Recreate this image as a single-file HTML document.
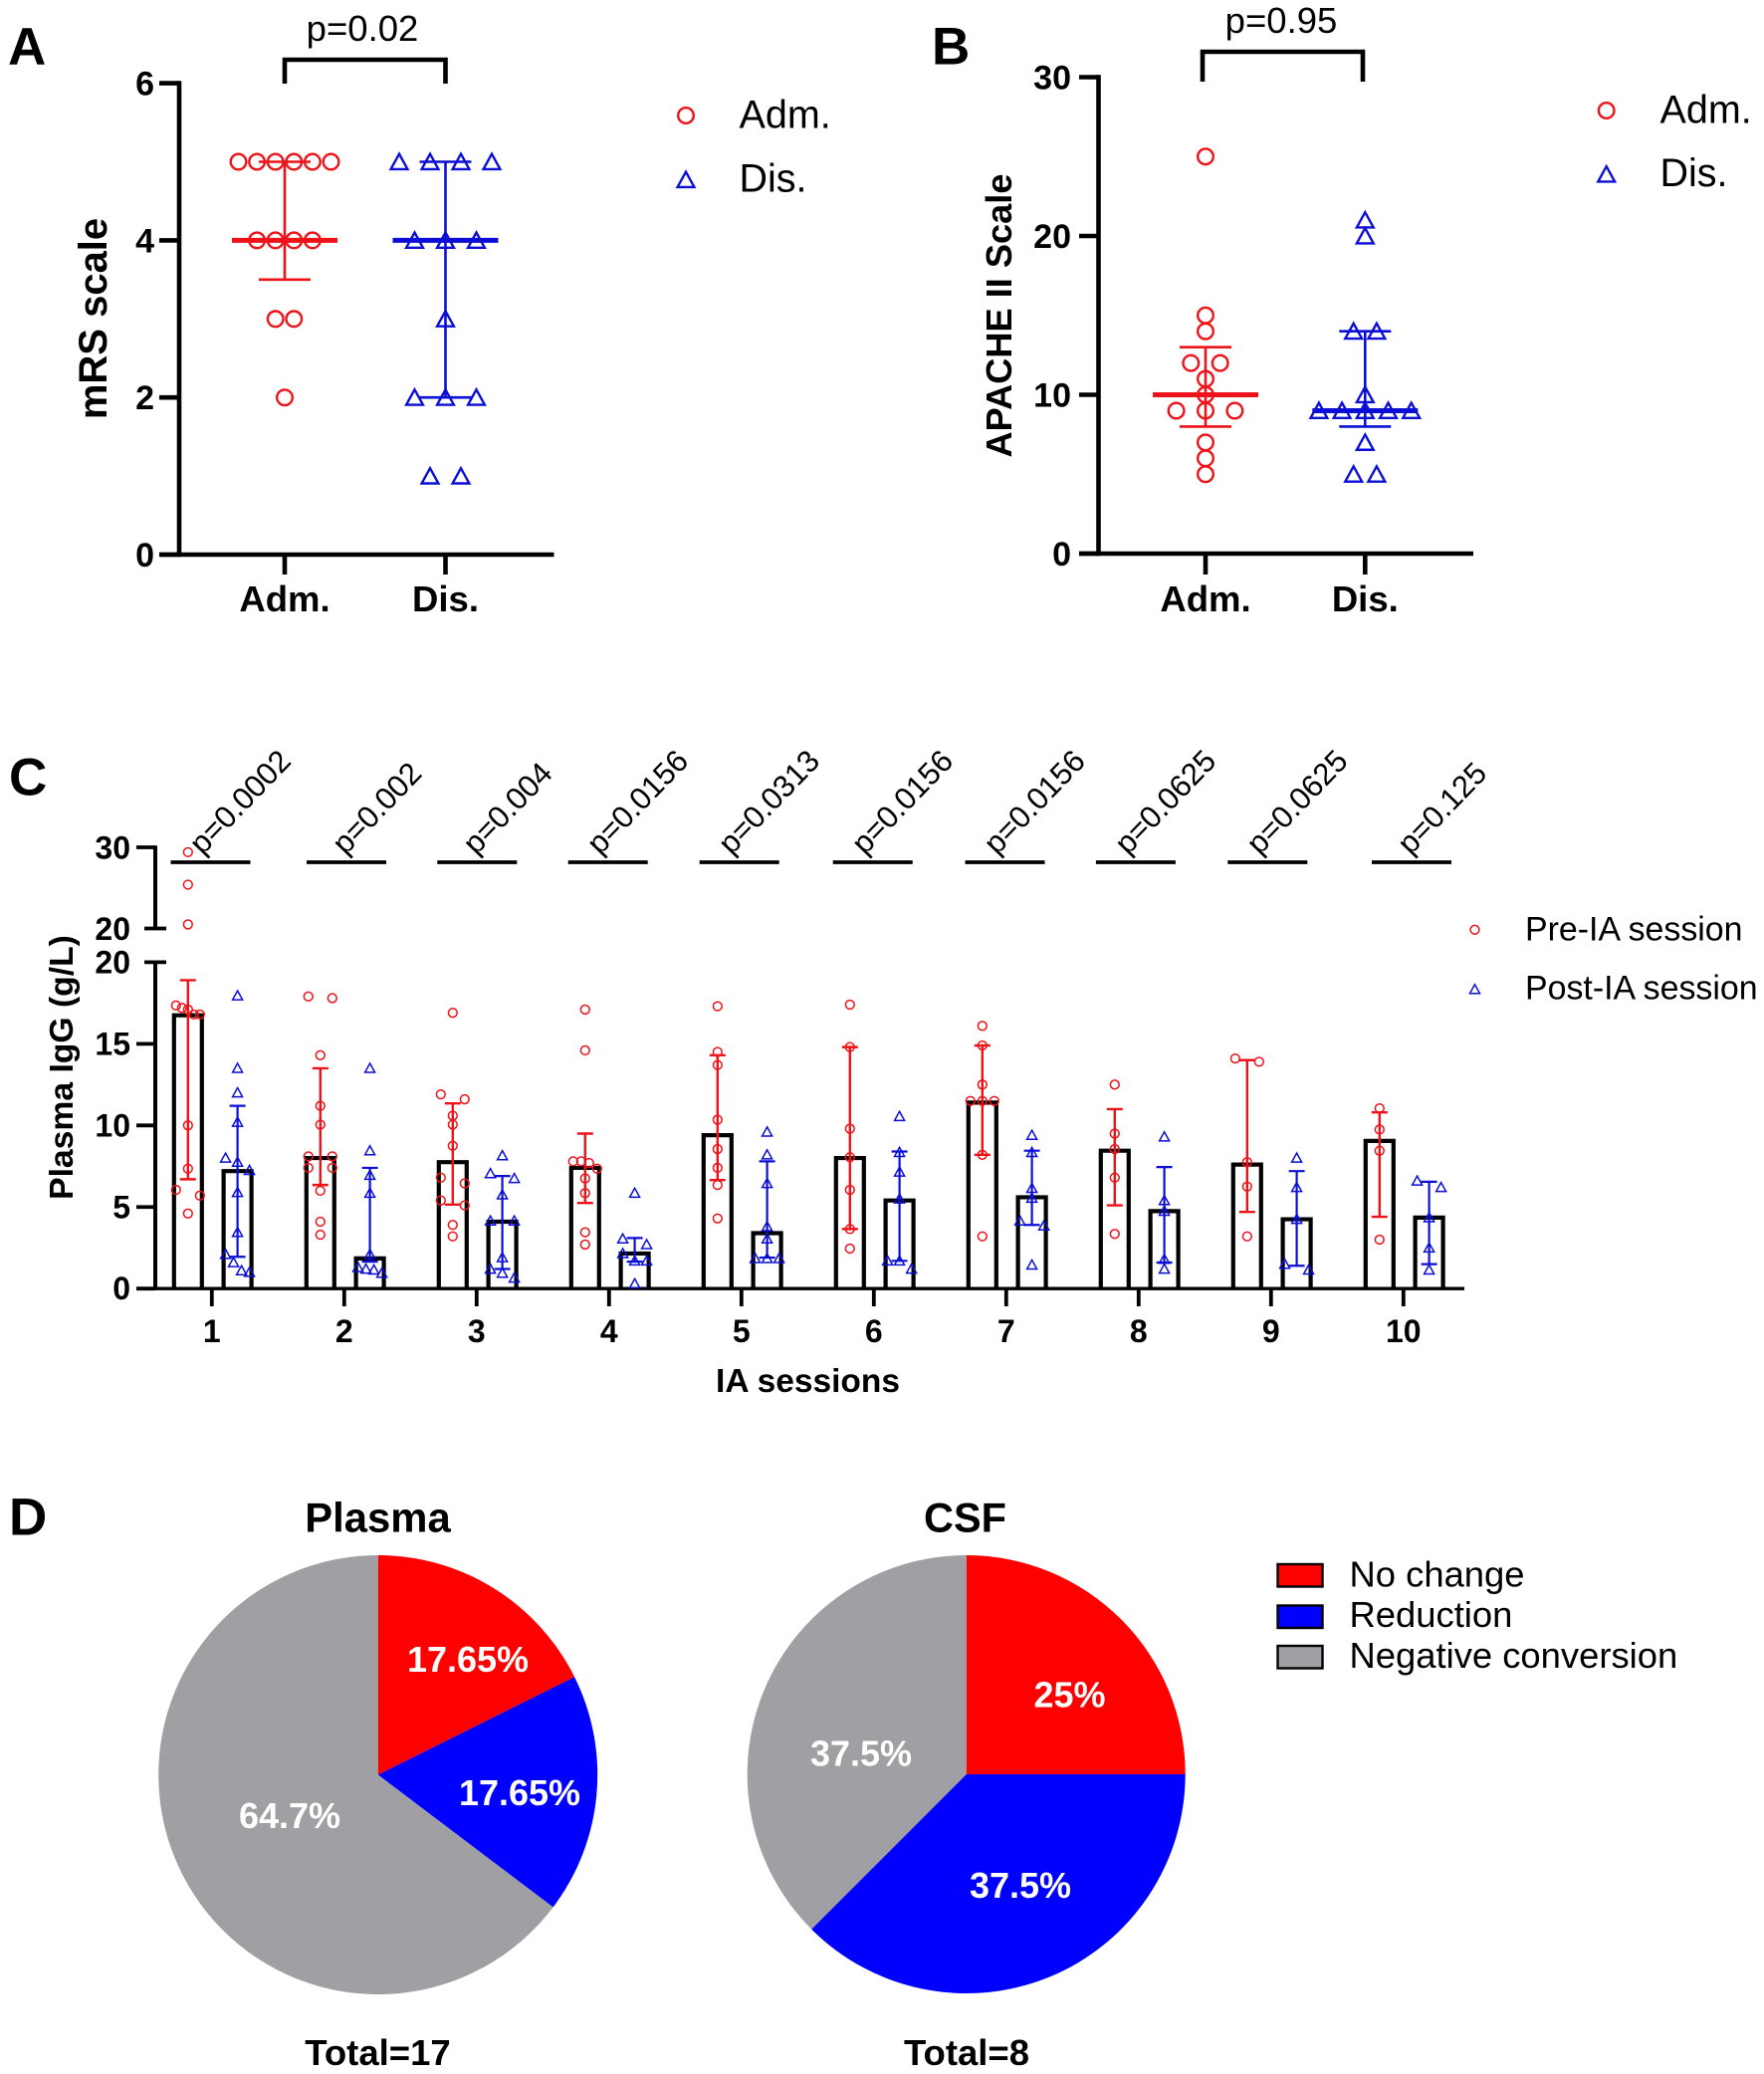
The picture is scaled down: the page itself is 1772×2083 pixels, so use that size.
<!DOCTYPE html>
<html lang="en">
<head>
<meta charset="utf-8">
<title>Clinical outcome and IgG figure</title>
<style>
html,body{margin:0;padding:0;background:#fff;}
svg{display:block;font-family:"Liberation Sans",sans-serif;}
</style>
</head>
<body>
<svg id="figure" xmlns="http://www.w3.org/2000/svg" width="1772" height="2083" viewBox="0 0 1772 2083"></svg>
<script>
/* ---------- Panel A data ---------- */
const mrsGroups = ["Adm.", "Dis."];
const mrsTicks = [0, 2, 4, 6];
const mrsAdm = [5,5,5,5,5,5,4,4,4,4,3,3,2];
const mrsDis = [5,5,5,5,4,4,4,3,2,2,2,1,1];
const mrsAdmSummary = [3.5, 4, 5];
const mrsDisSummary = [2, 4, 5];
const mrsP = "p=0.02";

/* ---------- Panel B data ---------- */
const apacheGroups = ["Adm.", "Dis."];
const apacheTicks = [0, 10, 20, 30];
const apacheAdm = [25,15,14,12,12,11,10,9,9,9,7,6,5];
const apacheDis = [21,20,14,14,10,9,9,9,9,9,7,5,5];
const apacheAdmSummary = [8, 10, 13];
const apacheDisSummary = [8, 9, 14];
const apacheP = "p=0.95";

/* ---------- Panel C data ---------- */
const sessions = ["1","2","3","4","5","6","7","8","9","10"];
const igTicksLower = [0, 5, 10, 15, 20];
const igTicksUpper = [20, 30];
const sessionP = ["p=0.0002","p=0.002","p=0.004","p=0.0156","p=0.0313","p=0.0156","p=0.0156","p=0.0625","p=0.0625","p=0.125"];
const preBars = [16.75,8.0,7.75,7.4,9.4,8.0,11.4,8.45,7.6,9.05];
const postBars = [7.2,1.85,4.1,2.15,3.4,5.4,5.6,4.75,4.25,4.35];
const preErrLow = [6.7,6.35,5.15,5.25,6.65,3.65,8.2,5.1,4.7,4.4];
const preErrHigh = [18.9,13.5,11.35,9.5,14.3,14.8,14.9,11.0,14.0,10.8];
const postErrLow = [1.95,1.65,1.2,1.65,1.9,1.7,3.9,1.6,1.4,1.5];
const postErrHigh = [11.2,7.4,6.9,3.1,7.8,8.4,8.45,7.45,7.2,6.55];
const prePoints = [
  [29.4,25.4,20.5,17.35,17.2,17.1,16.8,16.8,10,7.35,6.05,5.7,4.6],
  [17.9,17.8,14.3,11.2,10.05,8.1,8.1,7.4,7.4,6.0,4.1,3.3],
  [16.9,11.9,11.6,10.6,10.05,8.75,6.8,6.45,5.4,5.1,3.9,3.2],
  [17.1,14.6,7.8,7.8,7.7,7.35,6.75,5.85,3.45,2.7],
  [17.3,14.5,13.7,10.35,8.55,7.4,6.35,4.3],
  [17.4,14.8,9.8,8.05,6.05,3.65,2.45],
  [16.1,14.9,12.5,11.5,11.5,11.5,8.2,3.2],
  [12.5,9.5,8.55,6.8,3.35],
  [14.1,13.9,7.75,6.25,3.2],
  [11.05,9.75,8.45,3.0]
];
const postPoints = [
  [17.95,13.5,12.0,10.2,8.0,7.75,7.25,5.9,3.45,2.1,1.6,1.1,1.0],
  [13.5,8.45,6.95,5.85,2.1,1.3,1.2,1.15,0.95],
  [8.15,7.05,6.75,5.75,4.15,4.15,1.9,1.2,0.95,0.65],
  [5.85,3.05,2.7,2.15,1.7,1.7,0.3],
  [9.6,8.2,6.45,3.8,3.05,1.85,1.85,1.85],
  [10.55,8.35,7.15,5.5,1.7,1.7,1.2],
  [9.4,8.35,6.15,5.55,4.15,3.85,1.45],
  [9.3,5.4,4.75,1.8,1.2],
  [8.0,6.2,4.25,1.5,1.15],
  [6.6,6.2,4.35,2.5,1.15]
];

/* ---------- Panel D data ---------- */
const pieCategories = ["No change", "Reduction", "Negative conversion"];
const plasmaShares = [17.65, 17.65, 64.7];
const csfShares = [25, 37.5, 37.5];
const plasmaLabels = ["17.65%", "17.65%", "64.7%"];
const csfLabels = ["25%", "37.5%", "37.5%"];

/* ---------- Helpers ---------- */
const NS = "http://www.w3.org/2000/svg";
const svg = document.getElementById("figure");
const RED = "#ee1219", BLUE = "#0b0fd6", INK = "#000";
const SLICE = ["#fe0000", "#0000fe", "#a0a0a4"];

function add(parent, tag, attrs, text) {
  const el = document.createElementNS(NS, tag);
  for (const k in attrs) el.setAttribute(k, attrs[k]);
  if (text !== undefined) el.textContent = text;
  parent.appendChild(el);
  return el;
}
function line(parent, x1, y1, x2, y2, color, w) {
  return add(parent, "line", {x1, y1, x2, y2, stroke: color, "stroke-width": w});
}
function group(name) {
  const g = add(svg, "g", {});
  
  
  return g;
}
function circleMark(parent, x, y, r, color, w) {
  return add(parent, "circle", {cx: x, cy: y, r: r, fill: "none", stroke: color, "stroke-width": w});
}
function triMark(parent, x, y, r, color, w) {
  const pts = [[x, y - r], [x + r, y + r * 0.82], [x - r, y + r * 0.82]].map(p => p.join(",")).join(" ");
  return add(parent, "polygon", {points: pts, fill: "none", stroke: color, "stroke-width": w, "stroke-linejoin": "miter"});
}
/* Prism-style symmetric swarm: consecutive values closer than gap share a row. */
function swarm(values, gap, spacingFor) {
  const sorted = values.slice().sort((a, b) => b - a);
  const rows = [];
  sorted.forEach(v => {
    const row = rows[rows.length - 1];
    if (row && row[row.length - 1] - v <= gap) row.push(v); else rows.push([v]);
  });
  const out = [];
  rows.forEach(row => {
    const n = row.length, s = spacingFor(n);
    row.forEach((v, i) => out.push({v: v, dx: (i - (n - 1) / 2) * s}));
  });
  return out;
}

/* ---------- Panels A, B shared drawing ---------- */
function scatterPanel(cfg) {
  const g = group(cfg.name);
  const yS = cfg.y;
  const axis = add(g, "g", {});
  
  
  const top = yS(cfg.ticks[cfg.ticks.length - 1]);
  line(axis, cfg.axisX, top - 2.3, cfg.axisX, yS(0) + 2.3, INK, 4.6);
  line(axis, cfg.tickLeft, yS(0), cfg.xEnd, yS(0), INK, 4.6);
  cfg.ticks.forEach(t => {
    line(axis, cfg.tickLeft, yS(t), cfg.axisX, yS(t), INK, 4.6);
    const label = add(g, "text", {x: cfg.labelRight, y: yS(t) + 12, "text-anchor": "end", "font-size": 34, "font-weight": "bold"}, t);
    
    
  });
  cfg.groups.forEach((name, i) => {
    const cx = cfg.cx[i];
    line(axis, cx, yS(0), cx, 577, INK, 4.6);
    const label = add(g, "text", {x: cx, y: 614, "text-anchor": "middle", "font-size": 36.5, "font-weight": "bold"}, name);
    
    
  });
  cfg.series.forEach((s, i) => {
    const cx = cfg.cx[i];
    const sg = add(g, "g", {});
    
    
    line(sg, cx, yS(s.summary[0]), cx, yS(s.summary[2]), s.color, 2.6);
    line(sg, cx - 26, yS(s.summary[0]), cx + 26, yS(s.summary[0]), s.color, 2.6);
    line(sg, cx - 26, yS(s.summary[2]), cx + 26, yS(s.summary[2]), s.color, 2.6);
    const med = line(sg, cx - 53, yS(s.summary[1]), cx + 53, yS(s.summary[1]), s.color, 5);
    
    
    swarm(s.values, 0.01, () => s.spacing).forEach(p => {
      const m = s.tri
        ? triMark(sg, cx + p.dx, yS(p.v) + 0.5, 8.4, s.color, 2.4)
        : circleMark(sg, cx + p.dx, yS(p.v), 7.8, s.color, 2.4);
      
      
    });
  });
  const b = add(g, "path", {d: `M${cfg.br[0]} ${cfg.br[3]}V${cfg.br[2]}H${cfg.br[1]}V${cfg.br[3]}`, fill: "none", stroke: INK, "stroke-width": 4.6});
  
  
  const pt = add(g, "text", {x: cfg.pX, y: cfg.pY, "text-anchor": "middle", "font-size": 36.5}, cfg.p);
  
  
  const yt = add(g, "text", {transform: `translate(${cfg.titleX} ${cfg.titleY}) rotate(-90)`, "text-anchor": "middle", "font-size": cfg.titleSize, "font-weight": "bold"}, cfg.title);
  
  
  const l1 = circleMark(g, cfg.legX, cfg.legY[0], 7.8, RED, 2.4);
  
  
  const l2 = triMark(g, cfg.legX, cfg.legY[1], 8.4, BLUE, 2.4);
  
  
  const t1 = add(g, "text", {x: cfg.legTextX, y: cfg.legY[0] + 12.5, "font-size": 39.5}, cfg.groups[0]);
  
  
  const t2 = add(g, "text", {x: cfg.legTextX, y: cfg.legY[1] + 11.5, "font-size": 39.5}, cfg.groups[1]);
  
  
}

const yMrs = v => 557 - v * 78.9;
const yApache = v => 556 - v * 15.95;

scatterPanel({
  name: "panel-a", y: yMrs, ticks: mrsTicks, groups: mrsGroups, axisX: 180, tickLeft: 160, xEnd: 556.5,
  labelRight: 155, cx: [286, 447.5],
  series: [
    {name: "adm-series", values: mrsAdm, summary: mrsAdmSummary, color: RED, spacing: 18.6, tri: false},
    {name: "dis-series", values: mrsDis, summary: mrsDisSummary, color: BLUE, spacing: 31, tri: true}
  ],
  br: [286, 447.5, 60, 84], p: mrsP, pX: 364, pY: 41,
  title: "mRS scale", titleX: 107, titleY: 320, titleSize: 40,
  legX: 689, legY: [116, 181], legTextX: 742.5
});
scatterPanel({
  name: "panel-b", y: yApache, ticks: apacheTicks, groups: apacheGroups, axisX: 1103.5, tickLeft: 1084, xEnd: 1480,
  labelRight: 1076, cx: [1211, 1371.3],
  series: [
    {name: "adm-series", values: apacheAdm, summary: apacheAdmSummary, color: RED, spacing: 29.4, tri: false},
    {name: "dis-series", values: apacheDis, summary: apacheDisSummary, color: BLUE, spacing: 23.2, tri: true}
  ],
  br: [1208, 1369, 52, 82], p: apacheP, pX: 1287, pY: 33,
  title: "APACHE II Scale", titleX: 1016, titleY: 317, titleSize: 36.2,
  legX: 1613.7, legY: [111, 175.5], legTextX: 1667.5
});

/* ---------- Panel C ---------- */
const yLower = v => 1294.2 - v * 16.39;
const yUpper = v => 932.5 - (v - 20) * 8.15;
const yIg = v => v > 20 ? yUpper(v) : yLower(v);
const xSession = i => 212.8 + i * 133;
const PRE_OFFSET = -24, POST_OFFSET = 25.8, BAR_W = 28;

(function drawSessions() {
  const g = group("panel-c");
  const ax = add(g, "g", {});
  
  
  const sigLineLayout = [171.5, 308, 439.3, 570.7, 702.7, 836.7, 969.5, 1100.9, 1233.3, 1378];
  line(ax, 156, yUpper(30) - 1.75, 156, yUpper(20), INK, 4);
  line(ax, 156, yLower(20), 156, yLower(0), INK, 4);
  line(ax, 137, yLower(0), 1471, yLower(0), INK, 3.4);
  igTicksUpper.forEach(t => {
    const brk = t === 20;
    line(ax, brk ? 145 : 137, yUpper(t), brk ? 167 : 156, yUpper(t), INK, 3.8);
    const lab = add(g, "text", {x: 131, y: yUpper(t) + 11.4, "text-anchor": "end", "font-size": 32, "font-weight": "bold"}, t);
    
    
  });
  igTicksLower.forEach(t => {
    const brk = t === 20;
    line(ax, brk ? 145 : 137, yLower(t), brk ? 167 : 156, yLower(t), INK, 3.8);
    const lab = add(g, "text", {x: 131, y: yLower(t) + 11, "text-anchor": "end", "font-size": 32, "font-weight": "bold"}, t);
    
    
  });
  sessions.forEach((s, i) => {
    const cx = xSession(i);
    line(ax, cx, yLower(0), cx, 1312, INK, 3.8);
    const lab = add(g, "text", {x: cx, y: 1348, "text-anchor": "middle", "font-size": 32, "font-weight": "bold"}, s);
    
    

    const preBar = add(g, "path", {
      d: `M${cx + PRE_OFFSET - BAR_W / 2} ${yLower(0)}V${yLower(preBars[i])}H${cx + PRE_OFFSET + BAR_W / 2}V${yLower(0)}`,
      fill: "none", stroke: INK, "stroke-width": 4.2});
    
    
    const postBar = add(g, "path", {
      d: `M${cx + POST_OFFSET - BAR_W / 2} ${yLower(0)}V${yLower(postBars[i])}H${cx + POST_OFFSET + BAR_W / 2}V${yLower(0)}`,
      fill: "none", stroke: INK, "stroke-width": 4.2});
    
    

    const preG = add(g, "g", {});
    
    
    const px = cx + PRE_OFFSET;
    line(preG, px, yLower(preErrLow[i]), px, yLower(preErrHigh[i]), RED, 2.4);
    line(preG, px - 8, yLower(preErrLow[i]), px + 8, yLower(preErrLow[i]), RED, 2.4);
    line(preG, px - 8, yLower(preErrHigh[i]), px + 8, yLower(preErrHigh[i]), RED, 2.4);
    swarm(prePoints[i], 0.51, n => n > 1 ? 24 / (n - 1) : 0).forEach(p => {
      const m = circleMark(preG, px + p.dx, yIg(p.v), 4.4, RED, 1.5);
      
      
    });

    const postG = add(g, "g", {});
    
    
    const qx = cx + POST_OFFSET;
    line(postG, qx, yLower(postErrLow[i]), qx, yLower(postErrHigh[i]), BLUE, 2.2);
    line(postG, qx - 8, yLower(postErrLow[i]), qx + 8, yLower(postErrLow[i]), BLUE, 2.2);
    line(postG, qx - 8, yLower(postErrHigh[i]), qx + 8, yLower(postErrHigh[i]), BLUE, 2.2);
    swarm(postPoints[i], 0.51, n => n > 1 ? 24 / (n - 1) : 0).forEach(p => {
      const m = triMark(postG, qx + p.dx, yIg(p.v), 5, BLUE, 1.5);
      
      
    });

    const sigX = sigLineLayout[i];
    const sig = line(g, sigX, 866, sigX + 80, 866, INK, 3.8);
    
    
    const pLabel = add(g, "text", {"font-size": 31}, sessionP[i]);
    
    
    const labelLen = pLabel.getComputedTextLength();
    pLabel.setAttribute('transform', `translate(${sigX + 32 + (130 - labelLen) * 0.4} 859.5) rotate(-46)`);
  });

  const yt = add(g, "text", {transform: "translate(73 1072) rotate(-90)", "text-anchor": "middle", "font-size": 33.7, "font-weight": "bold"}, "Plasma IgG (g/L)");
  
  
  const xt = add(g, "text", {x: 811.5, y: 1398, "text-anchor": "middle", "font-size": 33.5, "font-weight": "bold"}, "IA sessions");
  
  

  const l1 = circleMark(g, 1481.5, 933.8, 4.4, RED, 1.5);
  
  
  const l2 = triMark(g, 1481.5, 993.7, 5, BLUE, 1.5);
  
  
  const t1 = add(g, "text", {x: 1532, y: 944.7, "font-size": 33.9}, "Pre-IA session");
  
  
  const t2 = add(g, "text", {x: 1532, y: 1003.5, "font-size": 33.9}, "Post-IA session");
  
  
})();

/* ---------- Panel D ---------- */
function pie(name, cx, cy, r, shares) {
  const g = add(svg, "g", {});
  
  
  const total = shares.reduce((a, b) => a + b, 0);
  let acc = 0;
  shares.forEach((v, i) => {
    const a0 = acc / total * 2 * Math.PI;
    acc += v;
    const a1 = acc / total * 2 * Math.PI;
    const x0 = cx + r * Math.sin(a0), y0 = cy - r * Math.cos(a0);
    const x1 = cx + r * Math.sin(a1), y1 = cy - r * Math.cos(a1);
    const big = a1 - a0 > Math.PI ? 1 : 0;
    const slice = add(g, "path", {d: `M${cx} ${cy}L${x0} ${y0}A${r} ${r} 0 ${big} 1 ${x1} ${y1}Z`, fill: SLICE[i]});
    
    
  });
}
pie("plasma-pie", 379.7, 1782.5, 220.5, plasmaShares);
pie("csf-pie", 970.7, 1782, 220, csfShares);

(function pieText() {
  const g = group("panel-d-text");
  const plasmaPos = [[470, 1679], [522, 1813], [291, 1836]];
  const csfPos = [[1074.5, 1714.5], [1025, 1906], [865, 1773.5]];
  plasmaLabels.forEach((s, i) => {
    const t = add(g, "text", {x: plasmaPos[i][0], y: plasmaPos[i][1], "text-anchor": "middle", "font-size": 36, "font-weight": "bold", fill: "#fff"}, s);
    
    
  });
  csfLabels.forEach((s, i) => {
    const t = add(g, "text", {x: csfPos[i][0], y: csfPos[i][1], "text-anchor": "middle", "font-size": 36, "font-weight": "bold", fill: "#fff"}, s);
    
    
  });
  const a = add(g, "text", {x: 379.5, y: 1538.5, "text-anchor": "middle", "font-size": 41.8, "font-weight": "bold"}, "Plasma");
  
  
  const b = add(g, "text", {x: 969.5, y: 1538.5, "text-anchor": "middle", "font-size": 41.5, "font-weight": "bold"}, "CSF");
  
  
  const c = add(g, "text", {x: 379.5, y: 2074, "text-anchor": "middle", "font-size": 36.5, "font-weight": "bold"}, "Total=17");
  
  
  const d = add(g, "text", {x: 971, y: 2074, "text-anchor": "middle", "font-size": 36.5, "font-weight": "bold"}, "Total=8");
  
  

  const swatchY = [1571, 1612.5, 1653];
  const textY = [1593.5, 1634, 1675];
  pieCategories.forEach((name, i) => {
    const s = add(g, "rect", {x: 1283.5, y: swatchY[i], width: 45, height: 22.5, fill: SLICE[i], stroke: INK, "stroke-width": 2.4});
    
    
    const t = add(g, "text", {x: 1355.5, y: textY[i], "font-size": 36.4}, name);
    
    
  });
})();

/* ---------- Panel letters ---------- */
const panelLetters = ["A", "B", "C", "D"];
const letterSpots = [[8, 65], [936, 64.5], [9, 798.5], [9, 1541.5]];
panelLetters.forEach((ch, i) => {
  const t = add(svg, "text", {x: letterSpots[i][0], y: letterSpots[i][1], "font-size": 53, "font-weight": "bold"}, ch);
  
  
});
</script>
</body>
</html>
